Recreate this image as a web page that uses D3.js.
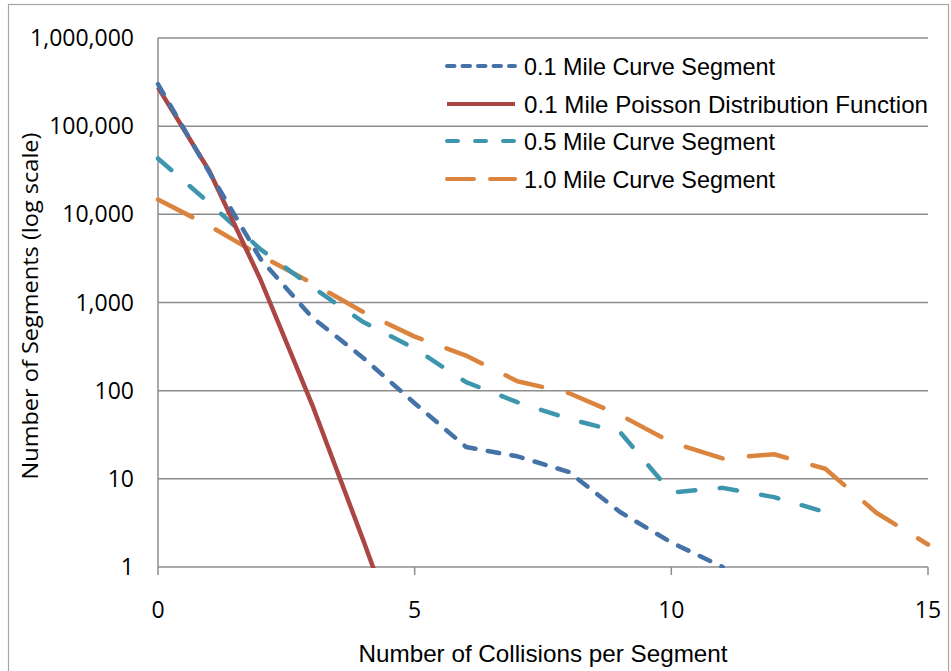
<!DOCTYPE html>
<html>
<head>
<meta charset="utf-8">
<script src="https://cdn.jsdelivr.net/npm/d3@7"></script>
<style>
  html, body { margin: 0; padding: 0; background: #fff; }
  svg { display: block; }
  text { fill: #000; }
</style>
</head>
<body>
<svg id="chart"></svg>
<script>
// collisions per segment (x) and the count of segments (y) for each series
var collisions = [0, 1, 2, 3, 4, 5, 6, 7, 8, 9, 10, 11, 12, 13, 14, 15];
var curve01 = [300000, 30000, 3100, 680, 235, 72, 23, 18, 12, 4.2, 1.9, 1];
var poisson01 = [275000, 31000, 1800, 70, 2, 0.05];
var curve05 = [43000, 13400, 4000, 1500, 600, 300, 125, 74, 48, 34, 7, 7.9, 6.2, 4.2];
var curve10 = [14700, 7400, 3400, 1660, 780, 410, 250, 128, 94, 53, 26, 17, 19, 13, 4.1, 1.8];

var seriesNames = [
  '0.1 Mile Curve Segment',
  '0.1 Mile Poisson Distribution Function',
  '0.5 Mile Curve Segment',
  '1.0 Mile Curve Segment'
];
var yTicks = [1, 10, 100, 1000, 10000, 100000, 1000000];
var xTicks = [0, 5, 10, 15];

var W = 951, H = 671;
var plotL = 158, plotR = 928, plotT = 38, plotB = 567;

var svg = d3.select('#chart').attr('width', W).attr('height', H);

// outer chart frame
svg.append('rect')
  .attr('x', 8.5).attr('y', 4.5)
  .attr('width', 940).attr('height', 700)
  .attr('fill', 'none').attr('stroke', '#a6a6a6').attr('stroke-width', 1.2);

var x = d3.scaleLinear().domain([0, 15]).range([plotL, plotR]);
var y = d3.scaleLog().domain([1, 1000000]).range([plotB, plotT]);

var gridColor = '#8c8c8c';

// horizontal gridlines
svg.append('g')
  .selectAll('line')
  .data(yTicks.slice(1))
  .enter().append('line')
  .attr('x1', plotL).attr('x2', plotR)
  .attr('y1', function (d) { return y(d); })
  .attr('y2', function (d) { return y(d); })
  .attr('stroke', gridColor).attr('stroke-width', 1.5);

// y axis line and labels
svg.append('line')
  .attr('x1', plotL).attr('x2', plotL).attr('y1', plotT).attr('y2', plotB)
  .attr('stroke', gridColor).attr('stroke-width', 1.5);

var fmt = d3.format(',');
svg.append('g')
  .selectAll('text')
  .data(yTicks)
  .enter().append('text')
  .attr('x', 134)
  .attr('y', function (d) { return y(d); })
  .attr('dy', '0.35em')
  .attr('text-anchor', 'end')
  .style('font-family', '"Open Sans", sans-serif')
  .style('font-size', '23px')
  .text(function (d) { return fmt(d); });

// x axis line, ticks, labels
svg.append('line')
  .attr('x1', plotL).attr('x2', plotR).attr('y1', plotB).attr('y2', plotB)
  .attr('stroke', gridColor).attr('stroke-width', 1.5);

svg.append('g')
  .selectAll('line')
  .data(xTicks)
  .enter().append('line')
  .attr('x1', function (d) { return x(d); })
  .attr('x2', function (d) { return x(d); })
  .attr('y1', plotB).attr('y2', plotB + 8)
  .attr('stroke', gridColor).attr('stroke-width', 1.5);

svg.append('g')
  .selectAll('text')
  .data(xTicks)
  .enter().append('text')
  .attr('x', function (d) { return x(d); })
  .attr('y', 610)
  .attr('dy', '0.35em')
  .attr('text-anchor', 'middle')
  .style('font-family', '"Open Sans", sans-serif')
  .style('font-size', '23px')
  .text(function (d) { return d; });

// axis titles
svg.append('text')
  .attr('x', 543).attr('y', 654)
  .attr('dy', '0.35em')
  .attr('text-anchor', 'middle')
  .attr('textLength', 369).attr('lengthAdjust', 'spacingAndGlyphs')
  .style('font-family', '"Liberation Sans", sans-serif')
  .style('font-size', '24px')
  .text('Number of Collisions per Segment');

svg.append('text')
  .attr('transform', 'translate(30,306) rotate(-90)')
  .attr('dy', '0.35em')
  .attr('text-anchor', 'middle')
  .attr('textLength', 347).attr('lengthAdjust', 'spacingAndGlyphs')
  .style('font-family', '"Open Sans", sans-serif')
  .style('font-size', '22px')
  .text('Number of Segments (log scale)');

// series
var series = [
  { name: seriesNames[0], values: curve01, color: '#4572A7', dash: '11.5,12.5', legendDash: '7.5,8' },
  { name: seriesNames[1], values: poisson01, color: '#AA4643', dash: null, legendDash: null },
  { name: seriesNames[2], values: curve05, color: '#3D96AE', dash: '17.5,24.5', legendDash: '11,17' },
  { name: seriesNames[3], values: curve10, color: '#DB843D', dash: '38.5,26.5', legendDash: '27,16' }
];

svg.append('clipPath').attr('id', 'plotclip')
  .append('rect')
  .attr('x', plotL - 4).attr('y', plotT - 10)
  .attr('width', plotR - plotL + 8).attr('height', plotB - plotT + 11);

var line = d3.line()
  .x(function (d, i) { return x(collisions[i]); })
  .y(function (d) { return y(d); });

var plot = svg.append('g').attr('clip-path', 'url(#plotclip)');
// draw in reverse so the 0.1 mile lines sit on top
series.slice().reverse().forEach(function (s) {
  plot.append('path')
    .datum(s.values)
    .attr('d', line)
    .attr('fill', 'none')
    .attr('stroke', s.color)
    .attr('stroke-width', 4.5)
    .attr('stroke-linecap', s.dash ? 'round' : 'butt')
    .attr('stroke-linejoin', 'round')
    .attr('stroke-dasharray', s.dash);
});

// legend (no background, gridline shows through)
var legend = svg.append('g');
var legendY = [66, 104, 141, 179];
series.forEach(function (s, i) {
  legend.append('line')
    .attr('x1', 447).attr('x2', 515)
    .attr('y1', legendY[i]).attr('y2', legendY[i])
    .attr('stroke', s.color)
    .attr('stroke-width', 4)
    .attr('stroke-linecap', s.legendDash ? 'round' : 'butt')
    .attr('stroke-dasharray', s.legendDash);
  legend.append('text')
    .attr('x', 524).attr('y', legendY[i] + 1)
    .attr('dy', '0.35em')
    .attr('textLength', i === 1 ? 404 : 251).attr('lengthAdjust', 'spacingAndGlyphs')
    .style('font-family', '"Liberation Sans", sans-serif')
    .style('font-size', '24px')
    .text(s.name);
});
</script>
</body>
</html>
